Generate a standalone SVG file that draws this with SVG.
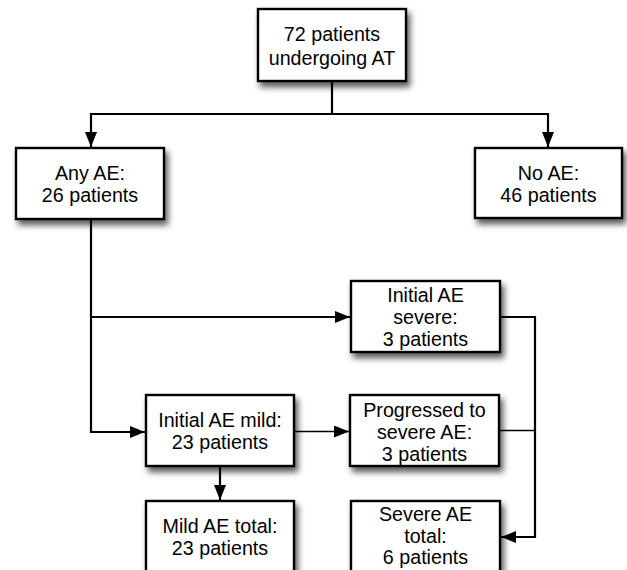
<svg xmlns="http://www.w3.org/2000/svg" width="627" height="570" viewBox="0 0 627 570">
<style>
.box{fill:#fff;stroke:#000;stroke-width:2.4;filter:url(#sh)}
.t{font-family:"Liberation Sans",Arial,Helvetica,sans-serif;font-size:19.7px;fill:#000;text-anchor:middle}
.c{fill:none;stroke:#000;stroke-width:2.2}
.thin{fill:none;stroke:#000;stroke-width:1.3}
</style>
<defs>
<filter id="sh" x="-20%" y="-20%" width="150%" height="150%">
<feDropShadow dx="3" dy="5" stdDeviation="3" flood-color="#000" flood-opacity="0.65"/>
</filter>
<marker id="ah" markerUnits="userSpaceOnUse" markerWidth="15" markerHeight="12" refX="15" refY="6" orient="auto">
<path d="M0,0 L15,6 L0,12 z" fill="#000"/>
</marker>
</defs>
<g id="connectors">
<path class="c" d="M332,81 V114 H91 V147" marker-end="url(#ah)"/>
<path class="c" d="M332,114 H548 V147" marker-end="url(#ah)"/>
<path class="c" d="M91,219 V432 H145" marker-end="url(#ah)"/>
<path class="c" d="M91,317 H350" marker-end="url(#ah)"/>
<path class="thin" d="M294,431.5 H349" marker-end="url(#ah)"/>
<path class="c" d="M500,317 H535 V537 H501" marker-end="url(#ah)"/>
<path class="thin" d="M499,430.5 H535"/>
<path class="c" d="M220,466 V500" marker-end="url(#ah)"/>
</g>
<g id="n-top">
<rect class="box" x="258" y="9" width="148" height="72"/>
<text class="t" x="332" y="41">72 patients</text>
<text class="t" x="332" y="64.5">undergoing AT</text>
</g>
<g id="n-any">
<rect class="box" x="16" y="148" width="148" height="71"/>
<text class="t" x="90" y="180">Any AE:</text>
<text class="t" x="90" y="201.5">26 patients</text>
</g>
<g id="n-no">
<rect class="box" x="475" y="148" width="147" height="70"/>
<text class="t" x="548.5" y="180">No AE:</text>
<text class="t" x="548.5" y="201.5">46 patients</text>
</g>
<g id="n-initsevere">
<rect class="box" x="351" y="281" width="149" height="71"/>
<text class="t" x="425.5" y="301.5">Initial AE</text>
<text class="t" x="425.5" y="323.5">severe:</text>
<text class="t" x="425.5" y="345.5">3 patients</text>
</g>
<g id="n-initmild">
<rect class="box" x="146" y="395" width="148" height="71"/>
<text class="t" x="220" y="427">Initial AE mild:</text>
<text class="t" x="220" y="449">23 patients</text>
</g>
<g id="n-progressed">
<rect class="box" x="350" y="395" width="149" height="71"/>
<text class="t" x="424.5" y="416.5">Progressed to</text>
<text class="t" x="424.5" y="438.5">severe AE:</text>
<text class="t" x="424.5" y="460.5">3 patients</text>
</g>
<g id="n-mildtotal">
<rect class="box" x="146" y="501" width="148" height="80"/>
<text class="t" x="220" y="533">Mild AE total:</text>
<text class="t" x="220" y="554.5">23 patients</text>
</g>
<g id="n-severetotal">
<rect class="box" x="351" y="501" width="149" height="80"/>
<text class="t" x="425.5" y="521">Severe AE</text>
<text class="t" x="425.5" y="543">total:</text>
<text class="t" x="425.5" y="564">6 patients</text>
</g>
</svg>
